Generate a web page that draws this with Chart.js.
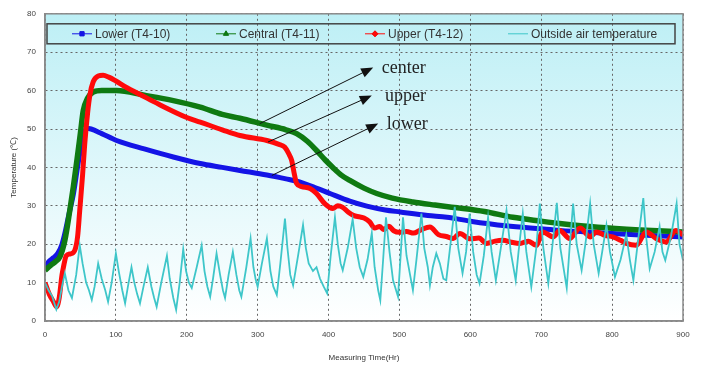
<!DOCTYPE html>
<html>
<head>
<meta charset="utf-8">
<script src="https://cdn.jsdelivr.net/npm/chart.js@4.4.1/dist/chart.umd.min.js"></script>
<style>
body { margin: 0; background: #fff; }
#wrap { width: 703px; height: 365px; }
</style>
</head>
<body>
<div id="wrap"><canvas id="tempChart"></canvas></div>
<script>
// series labels
var seriesNames = ['Lower (T4-10)', 'Central (T4-11)', 'Upper (T4-12)', 'Outside air temperature'];

// lower sensor (blue)
var lowerHours = [0, 5, 12, 18, 24, 28, 34, 40, 45, 49, 54, 59, 65, 80, 101, 140, 181, 219, 250, 275, 313, 340, 355, 380, 402, 430, 454, 480, 501, 540, 567, 600, 650, 700, 726, 780, 840, 900];
var lowerTemps = [14, 15.4, 16.5, 17.6, 20, 22.8, 28, 33, 39, 43.6, 48, 50.2, 50, 48.8, 47, 44.8, 42.7, 41, 40, 39.2, 38, 37, 36.4, 34.8, 33.2, 31.2, 29.9, 28.9, 28.4, 27.5, 27, 26, 24.8, 24, 23.6, 23, 22.4, 21.9];

// central sensor (green)
var centralHours = [0, 8, 15, 21, 28, 35, 40, 45, 50, 54, 60, 68, 80, 101, 140, 181, 219, 250, 275, 313, 340, 355, 370, 383, 395, 406, 418, 430, 450, 468, 490, 519, 550, 571, 585, 620, 660, 700, 726, 780, 840, 900];
var centralTemps = [13.2, 14.5, 15.5, 16.7, 21, 28.8, 35, 41.8, 49, 54.8, 58, 59.6, 60, 60, 58.8, 57.4, 55.7, 53.8, 52.8, 51, 49.8, 48.8, 46.8, 44.4, 42, 40, 38, 36.6, 34.6, 33.2, 32, 31, 30.2, 29.7, 29.4, 28.5, 27, 26, 25.4, 24.4, 23.7, 23.2];

// upper sensor (red)
var upperHours = [0, 6, 12, 16.5, 20, 24, 26, 30, 36, 42, 46, 49, 53, 56, 60, 63.5, 68, 75, 82, 90, 100, 115, 134, 160, 200, 219, 250, 275, 313, 330, 338, 344, 348, 352, 355, 362, 374, 383, 395, 406, 413, 420, 428, 435, 444, 450, 458, 465, 472, 478, 485, 492, 500, 510, 520, 529, 543, 555, 566, 576, 585, 600, 612, 623, 635, 646, 658, 670, 682, 693, 702, 717, 726, 740, 755, 769, 778, 790, 801, 812, 820, 834, 848, 862, 876, 890, 900];
var upperTemps = [10, 7, 5, 3.7, 6, 12, 14, 17, 17.5, 18.4, 22, 28.8, 38, 46, 54, 59, 62.3, 63.8, 64, 63.5, 62.5, 60.8, 59, 56.5, 53, 51.8, 49.8, 48.3, 47, 46, 45.3, 43.5, 41.8, 38, 35.8, 35, 34.5, 33.2, 30.5, 29.3, 30, 29.6, 28.3, 27.5, 27.1, 26.8, 25.8, 24.2, 24.6, 23.8, 24.7, 23.5, 23.1, 23.3, 22.9, 23.6, 24.5, 22.5, 22, 21.5, 22.8, 21.4, 21.6, 20.2, 20.8, 21, 20.5, 20.2, 20.8, 19.7, 23.2, 21.9, 23.6, 21.5, 24.2, 21.9, 23.2, 22.3, 21.9, 21, 20.2, 19.7, 23.2, 21.5, 20.6, 23.6, 22.4];

// outside air (cyan)
var airHours = [0, 5, 10, 16, 20, 24, 28, 33, 38, 44, 49, 53, 58, 62, 66, 70, 75, 80, 85, 89, 94, 100, 104, 109, 113, 117, 122, 126, 130, 134, 139, 145, 150, 154, 157.5, 164, 172, 176, 181, 185, 190, 195, 199, 203, 207, 214, 221, 225, 229, 233, 237, 242, 247, 251, 254, 259, 265, 270, 274, 277, 284, 290, 294, 297, 300, 306, 313, 318, 322, 327, 332, 338.5, 342, 346, 350, 357, 364, 368, 372, 378, 383, 388, 393, 398, 403, 409, 413, 417, 420, 427, 434, 439, 444, 449, 455, 461, 465, 470, 473, 477, 481, 486, 491, 498, 502, 505, 510, 515, 519, 524, 531, 535, 540, 543, 547, 552, 557, 562, 566, 572, 578, 583, 589, 594, 599, 604, 609, 613, 619, 625, 630, 636, 643, 651, 657, 664, 668, 674, 679, 686, 693, 698, 703, 710, 716, 722, 727, 736, 740, 745, 750, 757, 763, 769, 774, 781, 786, 792, 797, 804, 812, 820, 825, 830, 836, 844, 848, 853, 860, 867, 871, 875, 883, 891, 895, 900];
var airTemps = [10, 8, 6.5, 3, 5, 9, 12.4, 8, 6, 12, 19.7, 15, 10, 8, 5.5, 9, 15, 11, 8, 5, 10, 17.6, 13, 8, 4.6, 9, 14, 10, 7, 4.6, 9, 14, 9, 6, 3.7, 10, 17, 11, 6, 2.9, 10, 18.7, 13, 10, 8.6, 14, 19.7, 13, 9, 6.3, 11, 17.6, 12, 8, 6, 12, 18, 12, 8, 6.3, 14, 21.5, 14, 11, 8.9, 15, 21.5, 13, 9, 6.8, 15, 26.7, 19, 12, 9.3, 17, 25, 19, 15, 13, 14, 11, 9, 7.2, 17, 27, 20, 15, 13.2, 19, 26.5, 19, 14, 11.5, 16, 22.9, 14, 8, 5.4, 16, 27, 18, 10.6, 6.3, 18, 27, 17, 12, 8, 16, 28, 19, 14, 9.3, 14, 17.6, 15, 11, 10.6, 20, 29.7, 19, 12.4, 18, 28, 18, 12, 9.8, 17, 27, 18, 10.6, 19, 28.8, 18, 10.6, 18, 28, 18, 8.9, 19, 30.6, 19, 9.8, 20, 30.8, 19, 8.6, 19, 30.6, 20, 13.2, 21, 30.6, 20, 12.4, 18, 25, 18, 11.5, 16, 22.5, 16, 10.6, 20, 32, 22, 13.6, 18, 24.6, 18, 15.8, 22, 30.6, 20, 15.8];

// axis ticks
var xTicks = [0, 100, 200, 300, 400, 500, 600, 700, 800, 900];
var yTicks = [0, 10, 20, 30, 40, 50, 60, 70, 80];

// annotation texts and arrows (data coordinates)
var noteLabels = ['center', 'upper', 'lower'];
var noteTextX = [475, 479.5, 482];
var noteTextY = [64.7, 57.4, 49.9];
var arrowFromX = [303, 314.5, 320];
var arrowFromY = [51.4, 46.6, 37.9];
var arrowToX = [463, 461, 470];
var arrowToY = [66, 58.7, 51.4];

function zip(xs, ys) {
    var out = [];
    for (var i = 0; i < xs.length; i++) out.push({ x: xs[i], y: ys[i] });
    return out;
}

var colors = ['#1414e6', '#0f7a12', '#ff0a0a', '#3ec6c9'];
var markers = ['rect', 'triangle', 'rectRot', null];

var backdrop = {
    id: 'backdrop',
    beforeDraw: function (chart) {
        var ctx = chart.ctx, a = chart.chartArea;
        ctx.save();
        ctx.fillStyle = '#fff';
        ctx.fillRect(0, 0, chart.width, chart.height);
        var g = ctx.createLinearGradient(0, a.top, 0, a.bottom);
        g.addColorStop(0, '#bdeff5');
        g.addColorStop(0.55, '#e2f8fb');
        g.addColorStop(1, '#ffffff');
        ctx.fillStyle = g;
        ctx.fillRect(a.left, a.top, a.right - a.left, a.bottom - a.top);
        ctx.restore();
    },
    afterDraw: function (chart) {
        var ctx = chart.ctx, a = chart.chartArea;
        var xs = chart.scales.x, ys = chart.scales.y;
        ctx.save();
        // frame
        ctx.strokeStyle = '#8a8a8a';
        ctx.lineWidth = 1.5;
        ctx.strokeRect(a.left, a.top, a.right - a.left, a.bottom - a.top);

        // legend box
        var bx = a.left + 2, by = a.top + 10, bw = a.right - a.left - 10, bh = 20;
        ctx.strokeStyle = '#444';
        ctx.lineWidth = 1.5;
        ctx.strokeRect(bx, by, bw, bh);
        var itemX = [27, 171, 320, 463];
        var cy = by + bh / 2;
        ctx.font = '12px "Liberation Sans", Arial, sans-serif';
        ctx.textBaseline = 'middle';
        ctx.fillStyle = '#333';
        for (var i = 0; i < seriesNames.length; i++) {
            var lx = a.left + itemX[i];
            ctx.strokeStyle = colors[i];
            ctx.lineWidth = 1;
            ctx.beginPath();
            ctx.moveTo(lx, cy);
            ctx.lineTo(lx + 20, cy);
            ctx.stroke();
            if (markers[i]) {
                Chart.helpers.drawPoint(ctx, {
                    pointStyle: markers[i], radius: 3, rotation: 0, borderWidth: 1
                }, lx + 10, cy);
                ctx.fillStyle = colors[i];
                ctx.fill();
            }
            ctx.fillStyle = '#333';
            ctx.textAlign = 'left';
            ctx.fillText(seriesNames[i], lx + 23, cy + 0.5);
        }

        // arrows and notes
        ctx.strokeStyle = '#111';
        ctx.fillStyle = '#111';
        ctx.lineWidth = 1;
        for (var k = 0; k < noteLabels.length; k++) {
            var x0 = xs.getPixelForValue(arrowFromX[k]), y0 = ys.getPixelForValue(arrowFromY[k]);
            var x1 = xs.getPixelForValue(arrowToX[k]), y1 = ys.getPixelForValue(arrowToY[k]);
            var ang = Math.atan2(y1 - y0, x1 - x0);
            ctx.beginPath();
            ctx.moveTo(x0, y0);
            ctx.lineTo(x1 - 8 * Math.cos(ang), y1 - 8 * Math.sin(ang));
            ctx.stroke();
            ctx.beginPath();
            ctx.moveTo(x1, y1);
            ctx.lineTo(x1 - 12 * Math.cos(ang) + 5 * Math.sin(ang), y1 - 12 * Math.sin(ang) - 5 * Math.cos(ang));
            ctx.lineTo(x1 - 12 * Math.cos(ang) - 5 * Math.sin(ang), y1 - 12 * Math.sin(ang) + 5 * Math.cos(ang));
            ctx.closePath();
            ctx.fill();

            ctx.font = '18px "Liberation Serif", "Times New Roman", serif';
            ctx.textAlign = 'left';
            ctx.textBaseline = 'alphabetic';
            ctx.fillStyle = '#222';
            ctx.fillText(noteLabels[k], xs.getPixelForValue(noteTextX[k]), ys.getPixelForValue(noteTextY[k]));
            ctx.fillStyle = '#111';
        }
        ctx.restore();
    }
};

var ctx = document.getElementById('tempChart').getContext('2d');
new Chart(ctx, {
    type: 'line',
    data: {
        datasets: [{
            label: seriesNames[0],
            data: zip(lowerHours, lowerTemps),
            borderColor: colors[0],
            borderWidth: 5,
            cubicInterpolationMode: 'monotone',
            order: 3
        }, {
            label: seriesNames[1],
            data: zip(centralHours, centralTemps),
            borderColor: colors[1],
            borderWidth: 5.5,
            cubicInterpolationMode: 'monotone',
            order: 2
        }, {
            label: seriesNames[2],
            data: zip(upperHours, upperTemps),
            borderColor: colors[2],
            borderWidth: 5,
            cubicInterpolationMode: 'monotone',
            order: 1
        }, {
            label: seriesNames[3],
            data: zip(airHours, airTemps),
            borderColor: colors[3],
            borderWidth: 1.8,
            tension: 0,
            order: 0
        }]
    },
    options: {
        responsive: true,
        maintainAspectRatio: false,
        animation: false,
        parsing: false,
        elements: { point: { radius: 0 }, line: { fill: false } },
        layout: { padding: { left: 0, right: 20, top: 13, bottom: 0 } },
        plugins: { legend: { display: false }, tooltip: { enabled: false } },
        scales: {
            x: {
                type: 'linear',
                min: xTicks[0],
                max: xTicks[xTicks.length - 1],
                afterBuildTicks: function (s) { s.ticks = xTicks.map(function (v) { return { value: v }; }); },
                afterFit: function (s) { s.height = 44; },
                ticks: { color: '#444', font: { size: 8, family: 'Arial, "Liberation Sans", sans-serif' }, padding: 9, maxRotation: 0 },
                grid: { color: '#666', lineWidth: 1, drawTicks: false },
                border: { color: '#8a8a8a', width: 1.5, dash: [2, 3] },
                title: { display: true, text: 'Measuring Time(Hr)', color: '#333', font: { size: 8, family: 'Arial, "Liberation Sans", sans-serif' }, padding: { top: 0, bottom: 2 } }
            },
            y: {
                min: yTicks[0],
                max: yTicks[yTicks.length - 1],
                afterBuildTicks: function (s) { s.ticks = yTicks.map(function (v) { return { value: v }; }); },
                afterFit: function (s) { s.width = 45; },
                ticks: { color: '#444', font: { size: 8, family: 'Arial, "Liberation Sans", sans-serif' }, padding: 9 },
                grid: { color: '#666', lineWidth: 1, drawTicks: false },
                border: { color: '#8a8a8a', width: 1.5, dash: [2, 3] },
                title: { display: true, text: 'Temperature (℃)', color: '#333', font: { size: 8, family: 'Arial, "Liberation Sans", sans-serif' }, padding: { top: 9, bottom: 0 } }
            }
        }
    },
    plugins: [backdrop]
});
</script>
</body>
</html>
